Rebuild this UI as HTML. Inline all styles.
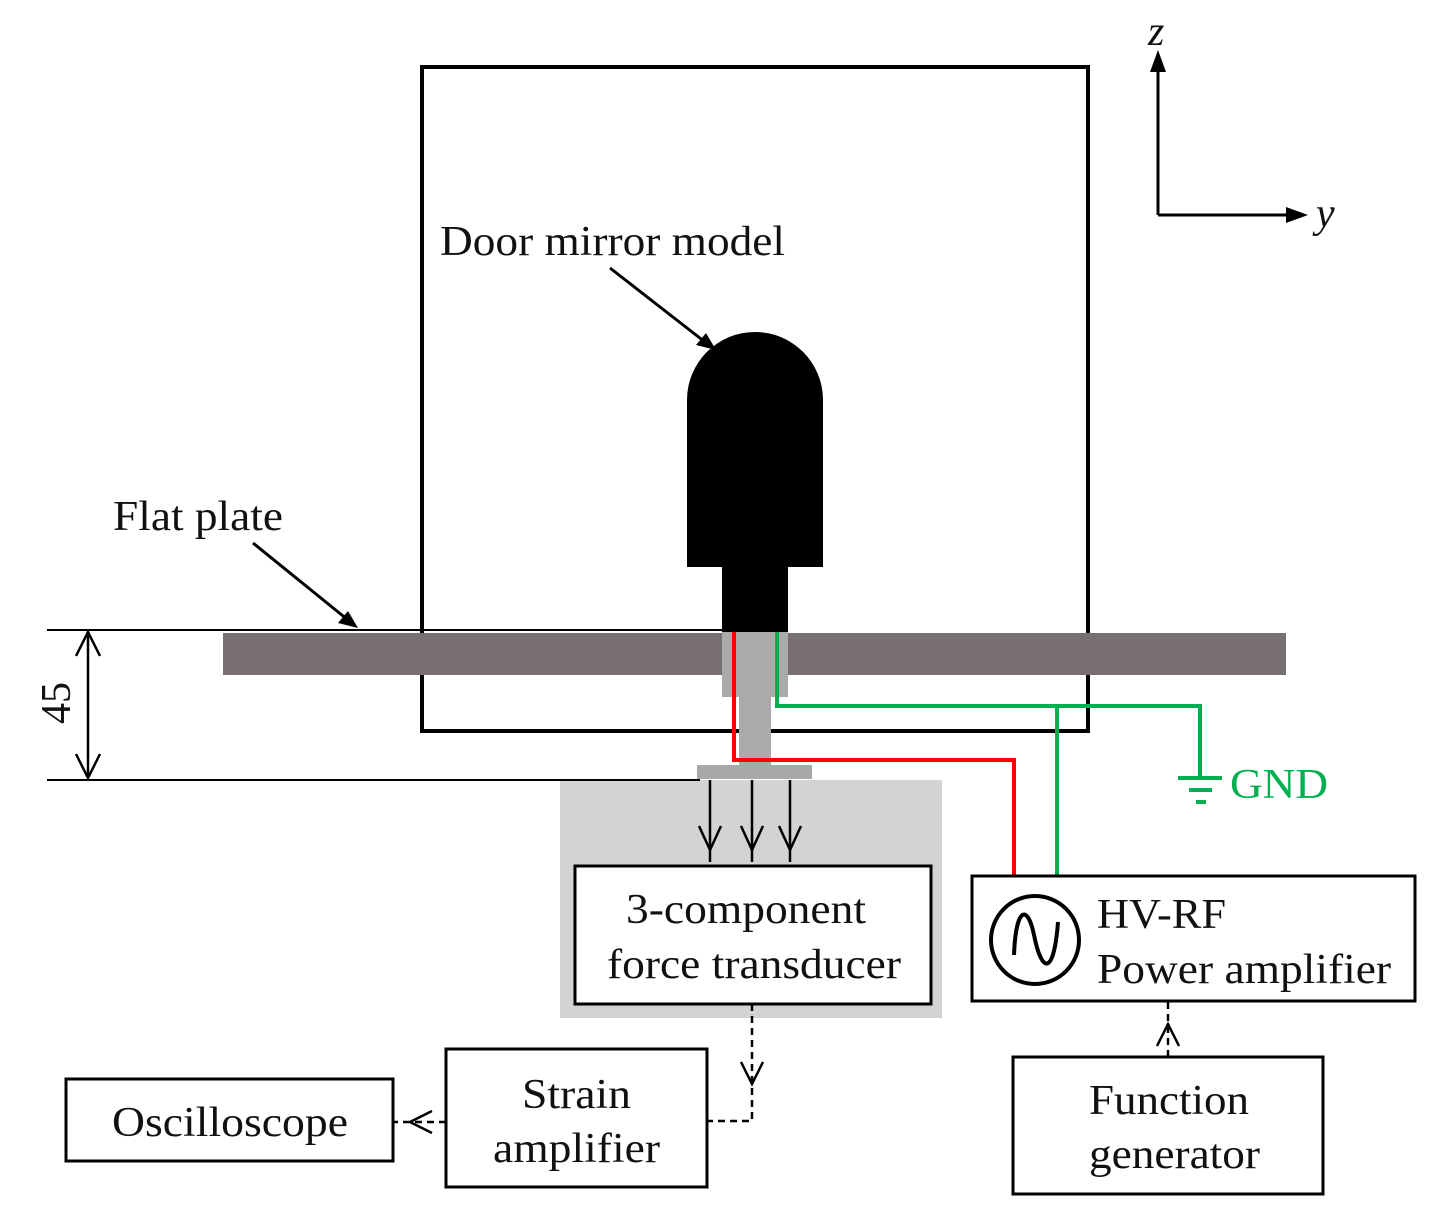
<!DOCTYPE html>
<html><head><meta charset="utf-8"><style>html,body{margin:0;padding:0;background:#fff}svg{display:block}text{font-family:"Liberation Serif",serif;font-size:42px;fill:#111}</style></head><body>
<svg width="1446" height="1225" viewBox="0 0 1446 1225" xmlns="http://www.w3.org/2000/svg">
<rect x="422" y="67" width="666" height="664" fill="none" stroke="#000" stroke-width="4"/>
<line x1="1158" y1="215" x2="1158" y2="62" stroke="#000" stroke-width="3"/>
<polygon points="1158,50 1150,72 1166,72" fill="#000"/>
<line x1="1158" y1="215" x2="1296" y2="215" stroke="#000" stroke-width="3"/>
<polygon points="1308,215 1286,207 1286,223" fill="#000"/>
<text x="1148" y="45" font-style="italic" font-size="38">z</text>
<text x="1316" y="227" font-style="italic" font-size="38">y</text>
<text x="440" y="255" textLength="345" lengthAdjust="spacingAndGlyphs">Door mirror model</text>
<line x1="610" y1="268" x2="705" y2="342" stroke="#000" stroke-width="3"/>
<polygon points="716,350 696,345 706,333" fill="#000"/>
<path d="M687,400 A68,68 0 0 1 823,400 L823,567 L687,567 Z" fill="#000"/>
<rect x="722" y="566" width="66" height="67" fill="#000"/>
<rect x="223" y="633" width="1063" height="42" fill="#787070"/>
<rect x="722" y="632" width="66" height="65" fill="#aaa"/>
<rect x="739" y="696" width="32" height="70" fill="#aaa"/>
<rect x="560" y="780" width="382" height="238" fill="#d3d3d3"/>
<rect x="697" y="765" width="115" height="14" fill="#a8a8a8"/>
<line x1="47" y1="630" x2="722" y2="630" stroke="#000" stroke-width="2"/>
<line x1="47" y1="780" x2="700" y2="780" stroke="#000" stroke-width="2"/>
<line x1="88" y1="632" x2="88" y2="778" stroke="#000" stroke-width="2.5"/>
<polyline points="76,656 88,632 100,656" fill="none" stroke="#000" stroke-width="2.5"/>
<polyline points="76,754 88,778 100,754" fill="none" stroke="#000" stroke-width="2.5"/>
<text transform="translate(70,703) rotate(-90)" text-anchor="middle">45</text>
<text x="113" y="530" textLength="170" lengthAdjust="spacingAndGlyphs">Flat plate</text>
<line x1="253" y1="543" x2="348" y2="620" stroke="#000" stroke-width="3"/>
<polygon points="358,628 338,623 348,611" fill="#000"/>
<polyline points="734,632 734,760 1014,760 1014,897" fill="none" stroke="#f00" stroke-width="4"/>
<polyline points="777,632 777,706 1200,706 1200,778" fill="none" stroke="#00b050" stroke-width="4"/>
<line x1="1057" y1="706" x2="1057" y2="897" stroke="#00b050" stroke-width="4"/>
<line x1="1178" y1="778" x2="1222" y2="778" stroke="#00b050" stroke-width="4"/>
<line x1="1189" y1="790" x2="1212" y2="790" stroke="#00b050" stroke-width="4"/>
<line x1="1196" y1="802" x2="1206" y2="802" stroke="#00b050" stroke-width="4"/>
<text x="1230" y="798" style="fill:#00b050" textLength="98" lengthAdjust="spacingAndGlyphs">GND</text>
<g stroke="#000" stroke-width="2.5" fill="none">
<line x1="710" y1="780" x2="710" y2="862"/><polyline points="699,826 710,850 721,826"/>
<line x1="752" y1="780" x2="752" y2="862"/><polyline points="741,826 752,850 763,826"/>
<line x1="790" y1="780" x2="790" y2="862"/><polyline points="779,826 790,850 801,826"/>
</g>
<rect x="575" y="866" width="356" height="138" fill="#fff" stroke="#000" stroke-width="3"/>
<text x="626" y="923" textLength="240" lengthAdjust="spacingAndGlyphs">3-component</text>
<text x="607" y="978" textLength="294" lengthAdjust="spacingAndGlyphs">force transducer</text>
<g stroke="#000" stroke-width="2.5" fill="none" stroke-dasharray="7,5">
<polyline points="752,1004 752,1121 708,1121"/>
<line x1="446" y1="1122" x2="394" y2="1122"/>
<line x1="1168" y1="1057" x2="1168" y2="1001"/>
</g>
<g stroke="#000" stroke-width="2.5" fill="none">
<polyline points="741,1062 752,1084 763,1062"/>
<polyline points="432,1111 410,1122 432,1133"/>
<polyline points="1157,1046 1168,1024 1179,1046"/>
</g>
<rect x="446" y="1049" width="261" height="138" fill="#fff" stroke="#000" stroke-width="3"/>
<text x="522" y="1108" textLength="109" lengthAdjust="spacingAndGlyphs">Strain</text>
<text x="493" y="1162" textLength="167" lengthAdjust="spacingAndGlyphs">amplifier</text>
<rect x="66" y="1079" width="327" height="82" fill="#fff" stroke="#000" stroke-width="3"/>
<text x="112" y="1136" textLength="236" lengthAdjust="spacingAndGlyphs">Oscilloscope</text>
<rect x="972" y="876" width="443" height="125" fill="#fff" stroke="#000" stroke-width="3"/>
<circle cx="1035" cy="940" r="44" fill="#fff" stroke="#000" stroke-width="4"/>
<path d="M1014,955 C1016,905 1028,905 1034,935 C1042,975 1054,975 1058,922" fill="none" stroke="#000" stroke-width="4"/>
<text x="1097" y="928" textLength="129" lengthAdjust="spacingAndGlyphs">HV-RF</text>
<text x="1097" y="983" textLength="294" lengthAdjust="spacingAndGlyphs">Power amplifier</text>
<rect x="1013" y="1057" width="310" height="137" fill="#fff" stroke="#000" stroke-width="3"/>
<text x="1089" y="1114" textLength="160" lengthAdjust="spacingAndGlyphs">Function</text>
<text x="1089" y="1168" textLength="171" lengthAdjust="spacingAndGlyphs">generator</text>
</svg>
</body></html>
